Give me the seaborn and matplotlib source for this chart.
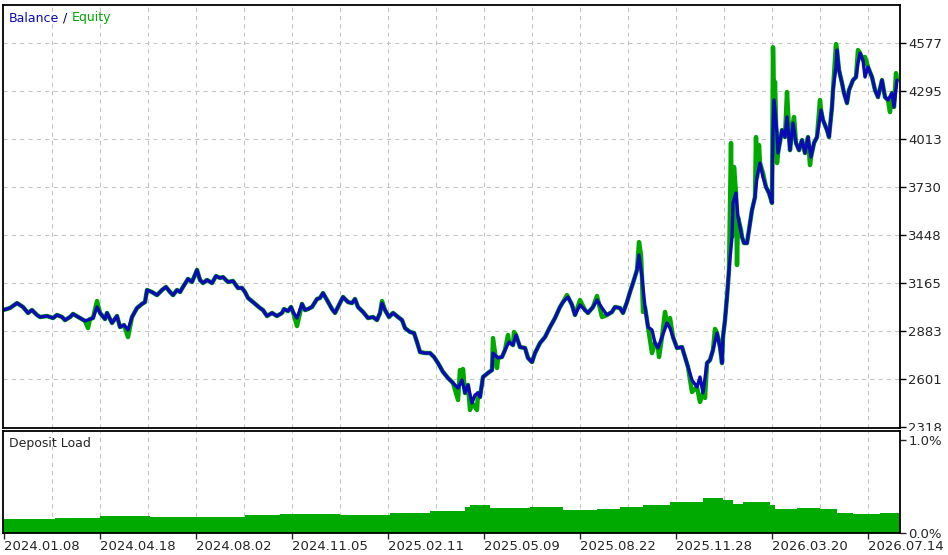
import matplotlib
matplotlib.use("Agg")
import matplotlib.pyplot as plt
import matplotlib.patches as patches
import seaborn as sns
import numpy as np
import pandas as pd

# ==========================================
# Data (read from the tester report)
# ==========================================
deal = [3, 10, 17, 23, 28, 32, 37, 40, 47, 53, 57, 62, 65, 70, 73, 80, 85, 90, 93, 97,
        100, 105, 107, 112, 117, 120, 124, 128, 132, 137, 142, 145, 147, 152, 157, 162, 166, 170, 173, 177,
        180, 183, 188, 192, 197, 200, 203, 207, 212, 216, 220, 223, 228, 233, 238,
        242, 245, 248, 253, 260, 263, 267, 272, 277, 282, 284, 288, 291, 293, 297,
        302, 305, 308, 312, 317, 320, 323, 327, 332, 335, 338, 343, 348, 352, 355, 358,
        363, 368, 373, 377, 380, 382, 385, 389, 393, 398, 402, 405, 410, 414, 417, 420,
        425, 430, 434, 438, 443, 448, 453, 458, 462, 465, 468, 472, 475, 478,
        480, 483, 488, 492, 493, 498, 502, 505, 509, 513, 516, 520, 525, 528, 532, 535,
        540, 545, 550, 555, 560, 563, 568, 572, 575, 580, 585, 588, 593, 597, 602, 607,
        612, 615, 620, 623, 627, 630, 633, 637, 639, 642, 645, 648, 652, 655, 658, 662,
        667, 670, 673, 677, 682, 685, 688,
        692, 697, 700, 703, 707, 710, 713, 717, 720, 722, 723, 725, 727, 729, 732, 733,
        736, 738, 742, 744, 747, 749, 752, 755, 757, 760, 763, 766, 769, 772, 773, 774,
        777, 778, 782, 785, 787, 790, 793, 796, 799, 802, 805, 808, 811, 814, 817, 821,
        823, 827, 829, 832, 833, 836, 837, 839, 842, 844, 847, 849, 853, 856, 858, 860,
        863, 865, 868, 872, 875, 878, 882, 885, 888, 892, 894, 897]

balance = [3008, 3020, 3049, 3026, 2991, 3008, 2979, 2967, 2973, 2961, 2979, 2967, 2949, 2967, 2985, 2961, 2944, 2955, 2961, 3026,
           2991, 2955, 2991, 2932, 2973, 2908, 2920, 2891, 2967, 3020, 3044, 3055, 3126, 3114, 3096, 3126, 3144, 3114, 3096, 3126,
           3114, 3144, 3191, 3173, 3244, 3185, 3167, 3185, 3167, 3208, 3197, 3202, 3173, 3179, 3138,
           3138, 3114, 3079, 3055, 3020, 3008, 2973, 2991, 2973, 2991, 3014, 3002, 3026, 2997, 2961,
           3044, 3008, 3014, 3026, 3073, 3079, 3108, 3067, 3014, 2991, 3026, 3085, 3055, 3049, 3073, 3026,
           2997, 2961, 2967, 2949, 2991, 3049, 3008, 2967, 2991, 2967, 2949, 2902, 2879, 2873, 2820, 2761,
           2755, 2755, 2732, 2696, 2644, 2608, 2579, 2549, 2596, 2520, 2567, 2461, 2508, 2520,
           2496, 2614, 2638, 2655, 2755, 2726, 2732, 2773, 2820, 2802, 2861, 2790, 2785, 2726, 2702, 2755,
           2814, 2849, 2908, 2961, 3026, 3055, 3085, 3038, 2979, 3038, 3008, 2991, 3026, 3067, 3020, 2979,
           2997, 3026, 3020, 2991, 3055, 3114, 3167, 3244, 3332, 3202, 3026, 2908, 2891, 2814, 2785, 2849,
           2932, 2902, 2849, 2785, 2790, 2732, 2673,
           2596, 2555, 2614, 2520, 2696, 2714, 2773, 2873, 2790, 2696, 2849, 2949, 3085, 3244, 3438, 3638,
           3697, 3555, 3438, 3402, 3402, 3479, 3597, 3673, 3791, 3873, 3791, 3732, 3697, 3638, 4067, 4244,
           4050, 3932, 4067, 4026, 4144, 3949, 4108, 3991, 3949, 4008, 3932, 4026, 3908, 3991, 4026, 4185,
           4126, 4067, 4026, 4203, 4302, 4438, 4538, 4420, 4344, 4285, 4226, 4302, 4361, 4379, 4461, 4520,
           4479, 4379, 4438, 4379, 4302, 4261, 4361, 4261, 4244, 4285, 4203, 4361]

# equity differs from balance mostly at open-position spikes
spike_deal = [88, 97, 128, 297, 382, 458, 460, 463, 470, 475, 477, 493, 497, 508, 514, 567, 580, 597, 602,
              639, 641, 643, 652, 659, 665, 670, 692, 700, 705, 715, 731, 734, 737, 741, 756, 759, 763,
              773, 775, 777, 787, 794, 810, 820, 836, 858, 865, 890, 896]
spike_equity = [2902, 3061, 2849, 2914, 3061, 2479, 2655, 2661, 2420, 2438, 2420, 2843, 2667, 2861, 2879, 3096, 3067, 3091, 2967,
                3408, 3332, 2997, 2755, 2732, 2997, 2961, 2526, 2467, 2491, 2897, 3991, 3850, 3273, 3479, 4026, 3979, 3814,
                4555, 4350, 3873, 4291, 4144, 3861, 4244, 4573, 4538, 4497, 4173, 4402]

load_deal = [3, 55, 100, 150, 245, 280, 340, 390, 430, 465, 470, 490, 530, 563, 597, 620, 643, 670,
             703, 723, 733, 743, 770, 775, 797, 820, 837, 853, 880, 900]
load_pct = [0.15, 0.165, 0.18, 0.17, 0.19, 0.205, 0.19, 0.21, 0.24, 0.285, 0.30, 0.265, 0.275, 0.25, 0.26, 0.285, 0.30, 0.335,
            0.38, 0.36, 0.31, 0.33, 0.30, 0.26, 0.27, 0.255, 0.22, 0.205, 0.215, 0.215]

date_labels = ["2024.01.08", "2024.04.18", "2024.08.02", "2024.11.05", "2025.02.11",
               "2025.05.09", "2025.08.22", "2025.11.28", "2026.03.20", "2026.07.14"]
date_pos = [4, 100, 196, 292, 388, 484, 580, 676, 772, 868]
grid_x = [52, 100, 148, 196, 244, 292, 340, 388, 436, 484, 532, 580, 628, 676, 724, 772, 820, 868]
y_ticks = [2318, 2601, 2883, 3165, 3448, 3730, 4013, 4295, 4577]

BLUE = "#0b0bb4"
GREEN = "#00a800"
GRID = "#c4c4c4"

# equity = balance with spike values put in
eq = pd.Series(spike_equity, index=spike_deal, dtype=float).combine_first(
    pd.Series(balance, index=deal, dtype=float)).sort_index()
bal_df = pd.DataFrame({"deal": deal, "value": balance})
eq_df = pd.DataFrame({"deal": eq.index, "value": eq.values})

# ==========================================
# Figure
# ==========================================
sns.set_style("white")
plt.rcParams["font.family"] = ["DejaVu Sans"]
fig = plt.figure(figsize=(9.48, 5.55), dpi=100)
ax1 = fig.add_axes([3/948, 127/555, 897/948, 423/555])
ax2 = fig.add_axes([3/948, 22/555, 897/948, 102/555])

# main panel
for x in grid_x:
    ax1.axvline(x, color=GRID, lw=0.75, ls=(0, (4, 4)), zorder=0)
for y in y_ticks[1:]:
    ax1.axhline(y, color=GRID, lw=0.75, ls=(0, (4, 4)), zorder=0)
sns.lineplot(data=eq_df, x="deal", y="value", ax=ax1, color=GREEN, linewidth=3.2,
             estimator=None, sort=False)
sns.lineplot(data=bal_df, x="deal", y="value", ax=ax1, color=BLUE, linewidth=2.4,
             estimator=None, sort=False)
ax1.set_xlim(3, 900)
ax1.set_ylim(2314, 4803)
ax1.set_xlabel("")
ax1.set_ylabel("")
ax1.set_xticks([])
ax1.yaxis.tick_right()
ax1.set_yticks(y_ticks)
ax1.set_yticklabels([str(v) for v in y_ticks])
ax1.tick_params(axis="y", length=4, width=1, color="black", pad=2, labelsize=9.5, right=True)
for s in ax1.spines.values():
    s.set_linewidth(1.3)
    s.set_color("black")

t1 = ax1.text(6/897, 1 - 13/423, "Balance", transform=ax1.transAxes, color=BLUE, fontsize=9, va="center")
t2 = ax1.annotate(" / ", xy=(1, 0), xycoords=t1, va="bottom", fontsize=9, color="#000060")
ax1.annotate("Equity", xy=(1, 0), xycoords=t2, va="bottom", fontsize=9, color=GREEN)

# deposit load panel
for x in grid_x:
    ax2.axvline(x, color=GRID, lw=0.75, ls=(0, (4, 4)), zorder=0)
ax2.fill_between(load_deal, load_pct, step="post", color="#00aa00", lw=0, zorder=2)
ax2.set_xlim(3, 900)
ax2.set_ylim(0, 1.097)
ax2.yaxis.tick_right()
ax2.set_yticks([0, 1.0])
ax2.set_yticklabels(["0.0%", "1.0%"])
ax2.set_xticks(date_pos)
ax2.set_xticklabels(date_labels, ha="left")
ax2.tick_params(axis="y", length=4, width=1, pad=2, labelsize=9.5, right=True)
ax2.tick_params(axis="x", length=4, width=1, pad=1, labelsize=9.5, bottom=True)
for s in ax2.spines.values():
    s.set_linewidth(1.3)
    s.set_color("black")
ax2.text(6/897, 1 - 12/102, "Deposit Load", transform=ax2.transAxes, fontsize=9, va="center")

# cut the lowest price label under the lower panel, like the terminal does
ax1.set_zorder(0)
ax2.set_zorder(2)
fig.add_artist(patches.Rectangle((900/948, 0), 48/948, 124/555, transform=fig.transFigure,
                                 facecolor="white", edgecolor="none", zorder=1))

fig.savefig("out.png", dpi=100, facecolor="white")
